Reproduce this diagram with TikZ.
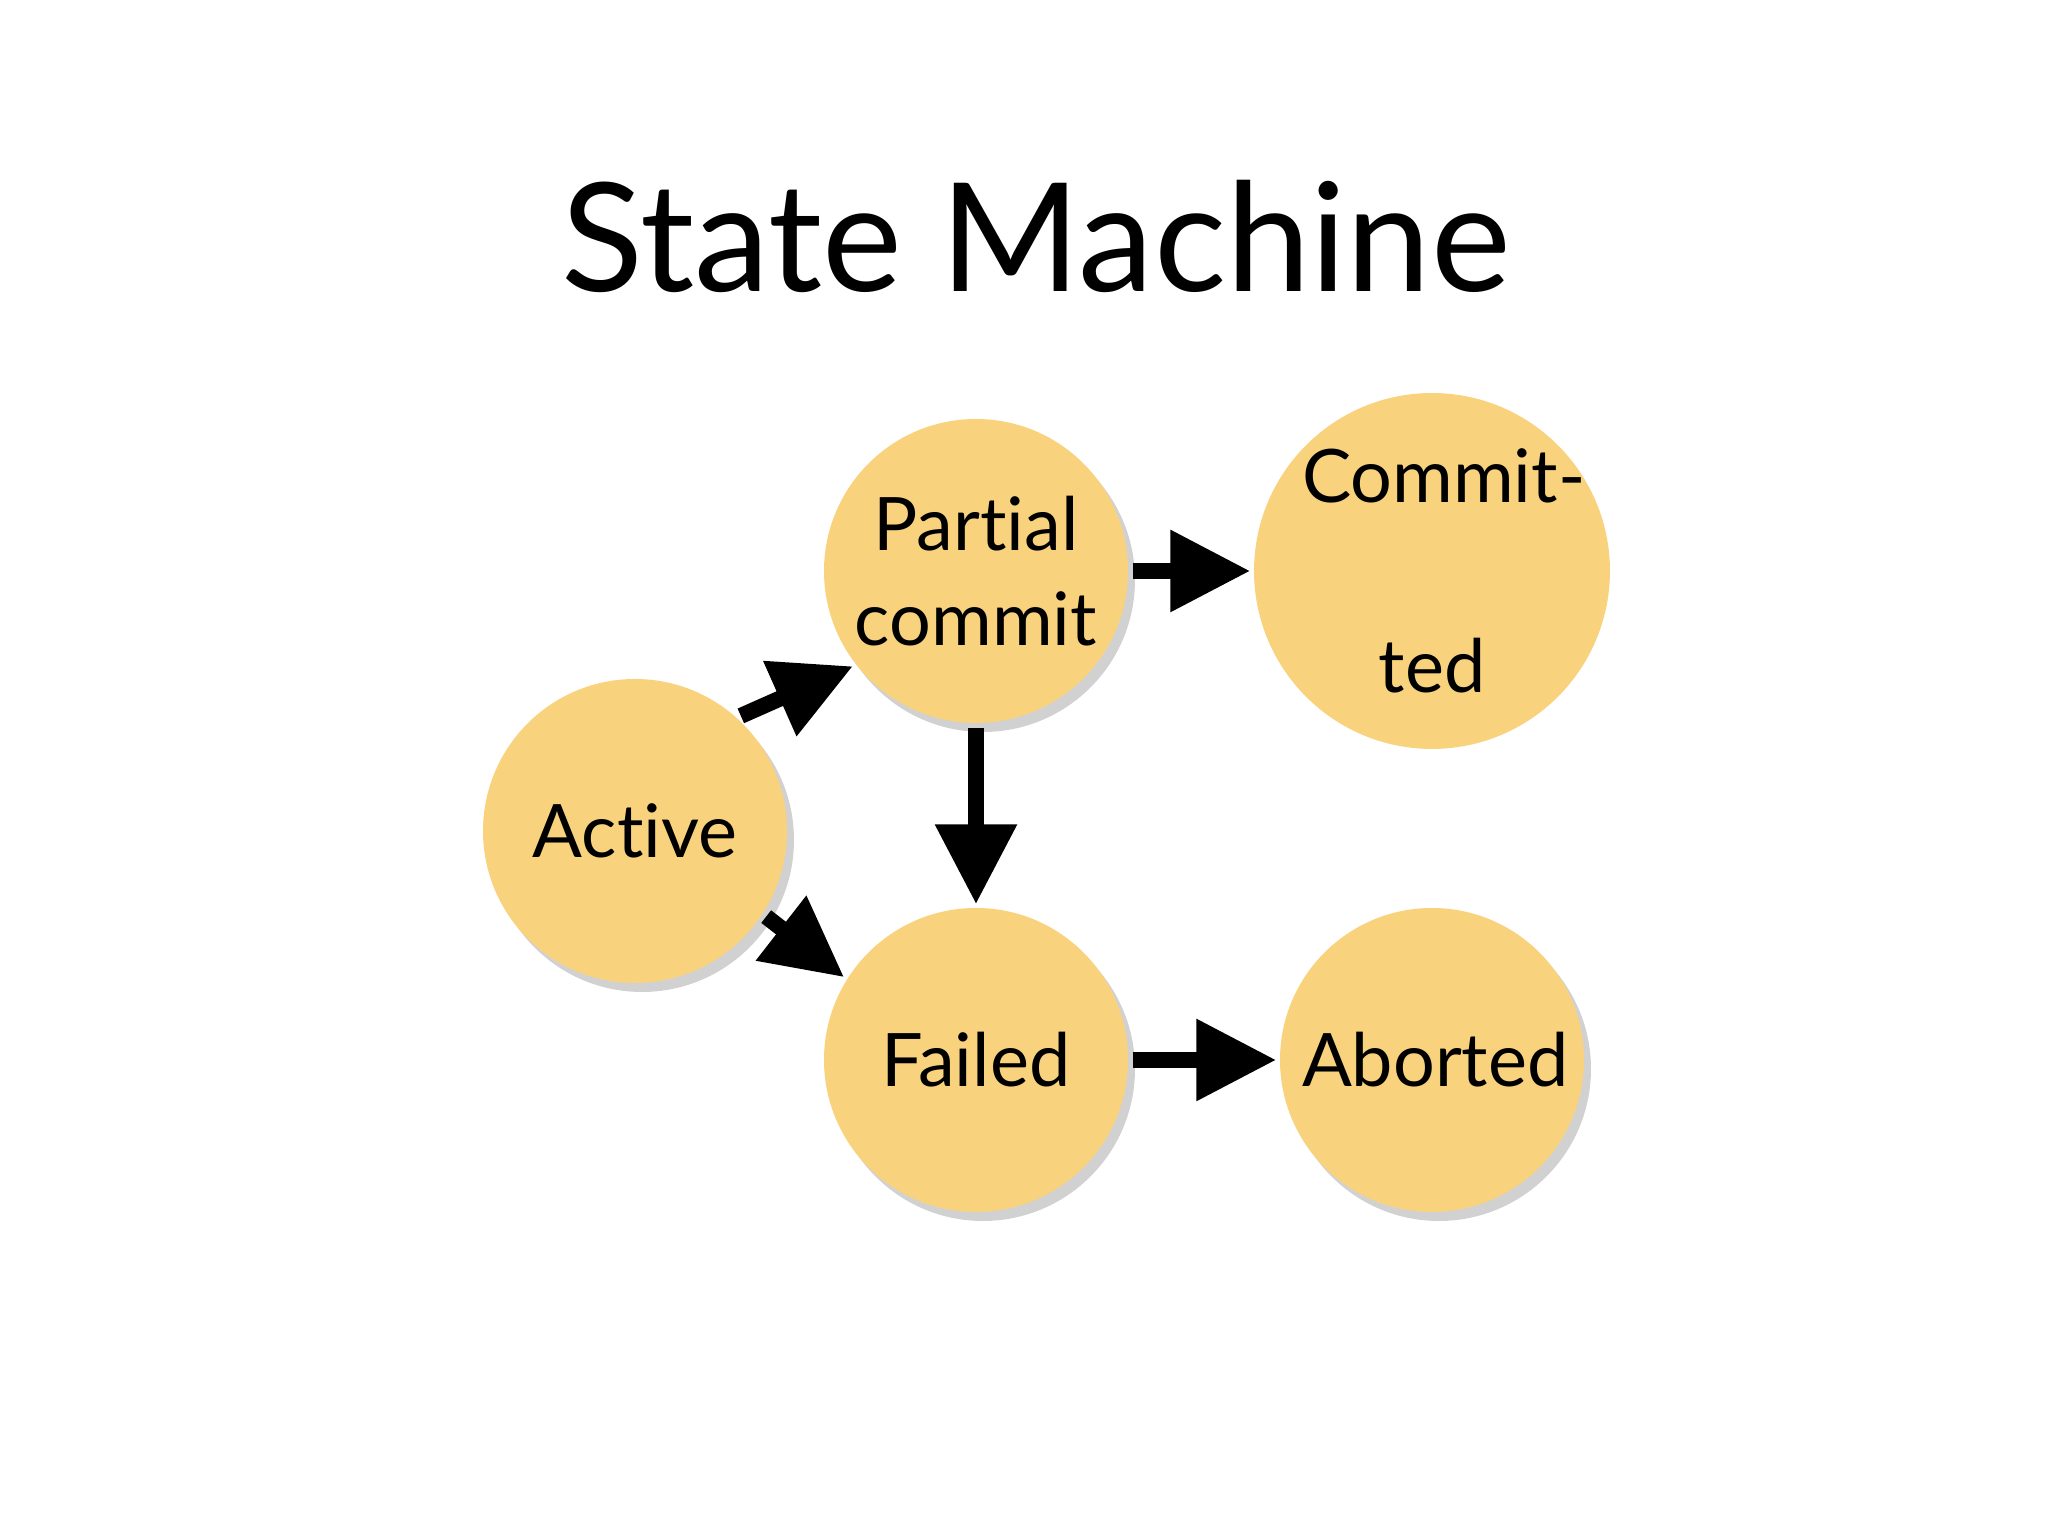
\documentclass[tikz,border=0pt]{standalone}
\usepackage{fontspec}
\setmainfont{Lato}[Ligatures={NoCommon,NoRequired,TeX}]
\usetikzlibrary{arrows.meta}
\definecolor{stfill}{HTML}{F9D27E}
\begin{document}
\begin{tikzpicture}[
  st/.style={circle,minimum size=3.04cm,fill=stfill,inner sep=0pt,align=center,
    text width=2.6cm,font=\fontsize{21}{27}\selectfont},
  shd/.style={circle,minimum size=3.04cm,inner sep=0pt,fill=black,opacity=0.18},
  ar/.style={line width=0.16cm,-{Triangle[length=0.8cm,width=0.78cm]},shorten <=0.04cm,shorten >=0.03cm}]
\useasboundingbox (0,0) rectangle (20.48,15.36);
\node[font=\fontsize{43}{52}\selectfont] (title) at (10.36,13.0) {State Machine};
\foreach \x/\y [count=\i] in {6.35/7.05,9.76/9.65,14.32/9.65,9.76/4.76,14.32/4.76}
  \node[shd] (s\i) at (\x+0.07,\y-0.09) {};
\node[st] (act) at (6.35,7.05) {Active};
\node[st] (par) at (9.76,9.65) {Partial\\commit};
\node[st] (com) at (14.32,9.65) {Commit-\\ted};
\node[st] (fail) at (9.76,4.76) {Failed};
\node[st] (abo) at (14.32,4.76) {Aborted};
\draw[ar] (act.48) -- (par.218);
\draw[ar] (act.-33) -- (fail.148);
\draw[ar] (par.south) -- (fail.north);
\draw[ar] (par.east) -- (com.west);
\draw[ar] (fail.east) -- (abo.west);
\end{tikzpicture}
\end{document}
